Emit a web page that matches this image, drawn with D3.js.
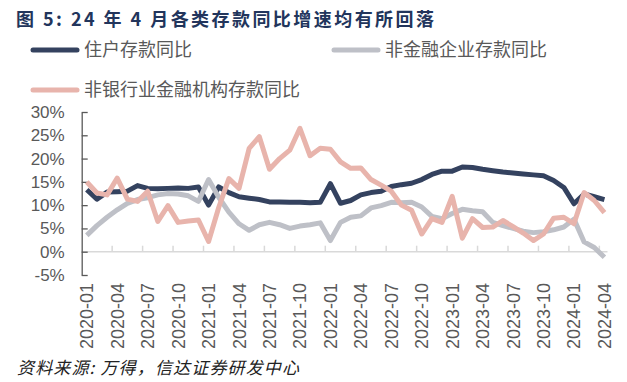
<!DOCTYPE html>
<html>
<head>
<meta charset="utf-8">
<script src="https://cdn.jsdelivr.net/npm/d3@7"></script>
<style>
  body { margin: 0; background: #fff; }
  svg { display: block; }
</style>
</head>
<body>
<svg id="chart"></svg>
<script>
const months = [
  '2020-01','2020-02','2020-03','2020-04','2020-05','2020-06','2020-07','2020-08','2020-09','2020-10','2020-11','2020-12',
  '2021-01','2021-02','2021-03','2021-04','2021-05','2021-06','2021-07','2021-08','2021-09','2021-10','2021-11','2021-12',
  '2022-01','2022-02','2022-03','2022-04','2022-05','2022-06','2022-07','2022-08','2022-09','2022-10','2022-11','2022-12',
  '2023-01','2023-02','2023-03','2023-04','2023-05','2023-06','2023-07','2023-08','2023-09','2023-10','2023-11','2023-12',
  '2024-01','2024-02','2024-03','2024-04'
];

// 住户存款同比 (%)
const household = [
  13.3, 11.3, 12.8, 12.9, 13.0, 14.2, 13.6, 13.5, 13.6, 13.7, 13.6, 13.9,
  10.0, 13.9, 12.7, 11.8, 11.5, 11.2, 10.7, 10.7, 10.6, 10.6, 10.5, 10.6,
  14.6, 10.4, 11.0, 12.2, 12.7, 13.0, 14.0, 14.4, 14.7, 15.5, 16.6, 17.3,
  17.3, 18.2, 18.1, 17.7, 17.4, 17.1, 16.9, 16.7, 16.5, 16.3, 15.3, 13.8,
  10.3, 12.4, 11.8, 11.2
];

// 非金融企业存款同比 (%)
const nonFinancial = [
  3.5, 5.6, 7.4, 9.0, 10.4, 11.2, 11.6, 12.2, 12.5, 12.4, 12.0, 10.8,
  15.5, 11.7, 8.5, 6.0, 4.6, 5.8, 6.3, 5.8, 5.0, 5.5, 5.8, 6.2,
  2.4, 6.3, 7.4, 7.7, 9.4, 9.9, 10.6, 10.5, 10.6, 9.6, 7.6, 7.1,
  8.2, 9.1, 8.8, 8.6, 6.3, 5.6, 5.0, 4.4, 4.1, 4.3, 4.7, 5.3,
  7.0, 2.1, 0.9, -1.2
];

// 非银行业金融机构存款同比 (%)
const nonBank = [
  15.0, 12.6, 12.2, 15.8, 11.3, 10.8, 13.0, 6.5, 9.9, 6.3, 6.6, 6.8,
  2.2, 9.5, 15.7, 13.6, 22.2, 24.7, 17.7, 20.0, 21.8, 26.5, 20.6, 22.2,
  22.0, 19.3, 17.9, 18.0, 15.5, 14.3, 13.0, 10.0, 8.9, 3.8, 7.1, 6.3,
  11.9, 2.9, 7.1, 5.2, 5.3, 6.7, 5.4, 4.0, 2.4, 3.8, 7.2, 7.4,
  6.0, 12.7, 11.0, 8.4
];

const yTicks = [-5, 0, 5, 10, 15, 20, 25, 30];
const xTickLabels = months.filter((m, i) => i % 3 === 0);

const series = [
  { name: '住户存款同比', values: household, color: '#34425f' },
  { name: '非金融企业存款同比', values: nonFinancial, color: '#bec0c7' },
  { name: '非银行业金融机构存款同比', values: nonBank, color: '#e8b4ac' }
];

const chartSize = { width: 627, height: 382 };
const plot = { left: 81.7, right: 609.5, top: 112, bottom: 275 };
const fontLatin = '"Liberation Sans", Arial, sans-serif';
const fontCJK = '"Noto Sans CJK SC", "Noto Sans", sans-serif';

const svg = d3.select('#chart')
  .attr('width', chartSize.width)
  .attr('height', chartSize.height);

// title
svg.append('text')
  .attr('x', 16)
  .attr('y', 26)
  .attr('font-family', fontCJK)
  .attr('font-weight', 'bold')
  .attr('font-size', 18)
  .attr('fill', '#22355c')
  .attr('textLength', 418)
  .attr('lengthAdjust', 'spacing')
  .text('图 5:  24 年 4 月各类存款同比增速均有所回落');

// legend
const legendPos = [
  { x: 33, y: 50 },
  { x: 334, y: 50 },
  { x: 33, y: 90 }
];
const legend = svg.append('g').attr('class', 'legend');
series.forEach((s, i) => {
  const p = legendPos[i];
  legend.append('line')
    .attr('x1', p.x).attr('x2', p.x + 44)
    .attr('y1', p.y).attr('y2', p.y)
    .attr('stroke', s.color)
    .attr('stroke-width', 5)
    .attr('stroke-linecap', 'round');
  legend.append('text')
    .attr('x', p.x + 51)
    .attr('y', p.y)
    .attr('dy', '0.36em')
    .attr('font-family', fontCJK)
    .attr('font-size', 18)
    .attr('fill', '#595959')
    .text(s.name);
});

const x = d3.scaleBand()
  .domain(months)
  .range([plot.left, plot.right])
  .padding(0);

const y = d3.scaleLinear()
  .domain([-5, 30])
  .range([plot.bottom, plot.top]);

const xc = m => x(m) + x.bandwidth() / 2;

// zero line with tick marks at band boundaries
svg.append('line')
  .attr('x1', plot.left).attr('x2', plot.right - 2)
  .attr('y1', y(0)).attr('y2', y(0))
  .attr('stroke', '#d9d9d9')
  .attr('stroke-width', 1.5);

svg.append('g')
  .selectAll('line')
  .data(months.filter((m, i) => i > 0 && i % 3 === 0))
  .enter()
  .append('line')
  .attr('x1', m => x(m)).attr('x2', m => x(m))
  .attr('y1', y(0)).attr('y2', y(0) - 6)
  .attr('stroke', '#d9d9d9')
  .attr('stroke-width', 1.5);

// x labels
const xAxis = d3.axisBottom(x)
  .tickValues(xTickLabels)
  .tickSize(0)
  .tickPadding(0);

const gx = svg.append('g')
  .attr('class', 'x-axis')
  .attr('transform', `translate(0,${plot.bottom + 8})`)
  .call(xAxis);
gx.select('.domain').remove();
gx.selectAll('text')
  .attr('transform', 'rotate(-90)')
  .attr('x', 0)
  .attr('y', 0)
  .attr('dy', '0.36em')
  .attr('text-anchor', 'end')
  .attr('font-family', fontLatin)
  .attr('font-size', 18)
  .attr('fill', '#595959');

// y axis
const yAxis = d3.axisLeft(y)
  .tickValues(yTicks)
  .tickSizeInner(-6)
  .tickSizeOuter(0)
  .tickPadding(17)
  .tickFormat(d => `${d}%`);

const gy = svg.append('g')
  .attr('class', 'y-axis')
  .attr('transform', `translate(${plot.left},0)`)
  .call(yAxis);
gy.select('.domain').attr('stroke', '#595959').attr('stroke-width', 1.3);
gy.selectAll('.tick line').attr('stroke', '#595959').attr('stroke-width', 1.3);
gy.selectAll('text')
  .attr('font-family', fontLatin)
  .attr('font-size', 17)
  .attr('fill', '#595959');

// lines
const line = d3.line()
  .x((v, i) => xc(months[i]))
  .y(v => y(v));

svg.append('g')
  .selectAll('path')
  .data(series)
  .enter()
  .append('path')
  .attr('d', s => line(s.values))
  .attr('fill', 'none')
  .attr('stroke', s => s.color)
  .attr('stroke-width', 5)
  .attr('stroke-linejoin', 'round');

// source
svg.append('text')
  .attr('x', 17)
  .attr('y', 374)
  .attr('font-family', fontCJK)
  .attr('font-style', 'italic')
  .attr('font-size', 17)
  .attr('fill', '#222')
  .attr('textLength', 282)
  .attr('lengthAdjust', 'spacing')
  .text('资料来源: 万得，信达证券研发中心');
</script>
</body>
</html>
